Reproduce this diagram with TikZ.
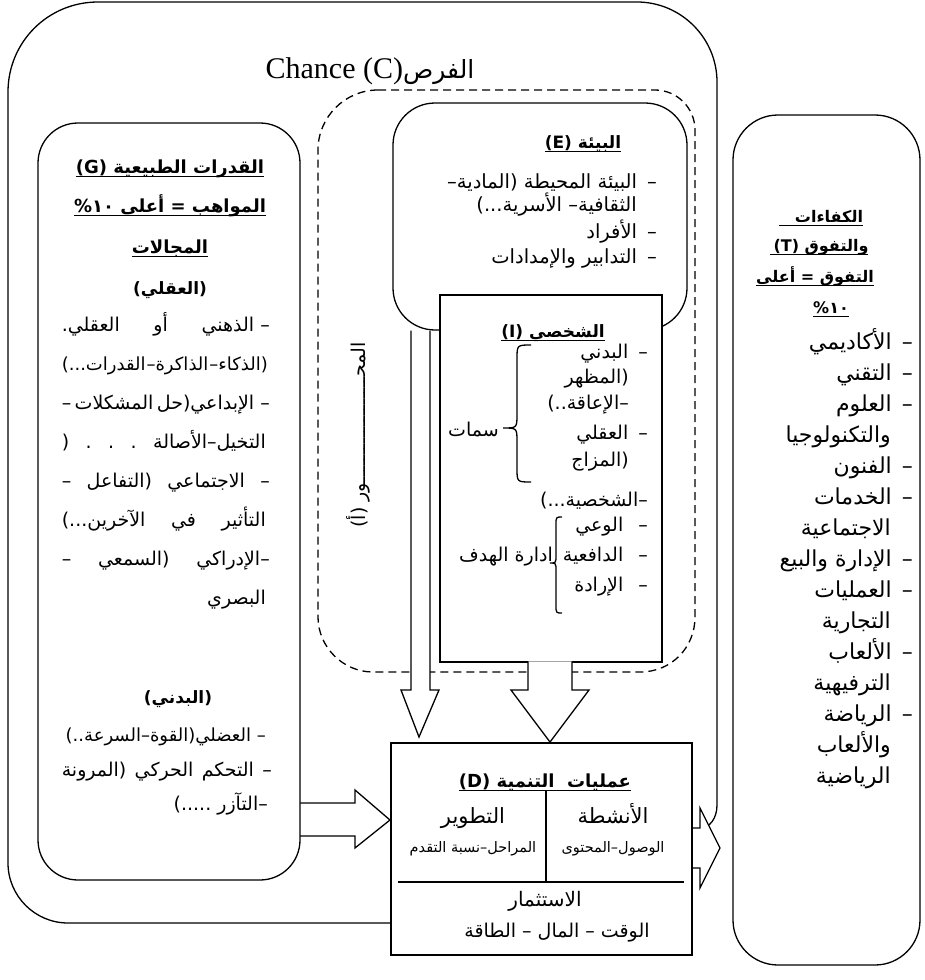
\documentclass[tikz,border=0pt]{standalone}
\usepackage{fontspec}
\setmainfont{Liberation Serif}
\newfontfamily\arabicfont[Script=Arabic]{DejaVu Sans}
\TeXXeTstate=1
\newcommand{\R}[1]{\beginR #1\endR}
\newcommand{\ulr}[1]{\setbox0\hbox{\beginR #1\endR}\rlap{\rule[-4pt]{\wd0}{1.1pt}}\box0}
\newcommand{\pct}{\beginL\hbox{\%}\hbox{١٠}\endL}
\tikzset{
  line/.style={line width=1.3pt},
  box/.style={draw, line width=1.3pt, fill=white, inner sep=0pt},
  tx/.style={inner sep=0pt, font=\arabicfont\fontsize{#1}{#1}\selectfont},
  tb/.style={inner sep=0pt, font=\arabicfont\bfseries\fontsize{#1}{#1}\selectfont},
}
\begin{document}
\begin{tikzpicture}[x=1pt,y=-1pt]
\useasboundingbox (0,0) rectangle (924,980);

% outer frame (Chance)
\draw[line] (392,923) -- (68,923) .. controls (35,923) and (8,896) .. (8,863) -- (8,92)
  .. controls (8,42) and (48,2) .. (98,2) -- (637,2) .. controls (681,2) and (717,38) .. (717,82)
  -- (717,805) .. controls (717,818) and (710,828) .. (700,828);
\node[inner sep=0pt, font=\fontsize{30}{31}\selectfont, anchor=base] (chance) at (370,78)
  {Chance (C){\arabicfont\fontsize{25}{25}\selectfont الفرص}};

% dashed region
\draw[line, dash pattern=on 8pt off 5pt] (378,90) -- (655,90) .. controls (677,90) and (695,108) .. (695,130)
  -- (695,617) .. controls (695,647) and (672,672) .. (640,672) -- (373,672)
  .. controls (343,672) and (318,647) .. (318,617) -- (318,150) .. controls (318,117) and (345,90) .. (378,90) -- cycle;

% arrows drawn below boxes
\draw[box] (290,803) -- (355,803) -- (355,790) -- (390,820) -- (355,848) -- (355,836) -- (290,836);
\draw[box] (680,828) -- (700,828) -- (700,808) -- (720,848) -- (700,888) -- (700,868) -- (680,868);

% boxes
\node[box, rounded corners=40pt, minimum width=262pt, minimum height=757pt] (G) at (169,501.5) {};
\node[box, rounded corners=42pt, minimum width=294pt, minimum height=227pt] (E) at (540,216.5) {};
\draw[box] (411,330.6) -- (411,690) -- (401,690) -- (419,737) -- (439,690) -- (430,690) -- (430,330.6);
\node[box, minimum width=222pt, minimum height=367pt] (I) at (551,478.5) {};
\draw[box] (528,661.4) -- (528,690) -- (511,690) -- (550,742) -- (589,690) -- (572,690) -- (572,661.4);
\node[box, minimum width=301pt, minimum height=212pt] (D) at (541.5,849) {};
\node[box, rounded corners=45pt, minimum width=187pt, minimum height=850pt] (T) at (826.5,540) {};

% axis label
\node[tx=19, rotate=90] (axis) at (358,435) {\R{المحـــــــــــــــــــور (أ)}};

% G box texts
\node[tb=18, anchor=base] (g1) at (170,173) {\ulr{القدرات الطبيعية (G)}};
\node[tb=18, anchor=base] (g2) at (170,212) {\ulr{المواهب = أعلى \pct}};
\node[tb=18, anchor=base] (g3) at (170,253) {\ulr{المجالات}};
\node[tb=17, anchor=base] (g4) at (170,294) {\R{(العقلي)}};
\node[tx=19, anchor=base east] (p1) at (270,331) {\hbox to 208pt{\beginR –~الذهني\hfill أو\hfill العقلي.\endR}};
\node[tx=18, anchor=base east] (p2) at (268,370) {\hbox to 206pt{\beginR (الذكاء–\hfil الذاكرة–\hfil القدرات...)\endR}};
\node[tx=19, anchor=base east] (p3) at (270,409) {\hbox to 208pt{\beginR –~الإبداعي(حل\hfill المشكلات\hfill –\endR}};
\node[tx=19, anchor=base east] (p4) at (266,448) {\hbox to 204pt{\beginR التخيل–الأصالة\hfill .\hfill .\hfill .\hfill (\endR}};
\node[tx=19, anchor=base east] (p5) at (270,487) {\hbox to 208pt{\beginR –\hfill الاجتماعي\hfill (التفاعل\hfill –\endR}};
\node[tx=19, anchor=base east] (p6) at (266,526) {\hbox to 204pt{\beginR التأثير\hfill في\hfill الآخرين...)\endR}};
\node[tx=19, anchor=base east] (p7) at (270,565) {\hbox to 208pt{\beginR –الإدراكي\hfill (السمعي\hfill –\endR}};
\node[tx=19, anchor=base east] (p8) at (266,604) {\R{البصري}};
\node[tb=17, anchor=base] (b0) at (178,703) {\R{(البدني)}};
\node[tx=18, anchor=base east] (b1) at (266,741) {\R{–~العضلي(القوة–السرعة..)}};
\node[tx=19, anchor=base east] (b2) at (272,776) {\hbox to 210pt{\beginR –\hfill التحكم\hfill الحركي\hfill (المرونة\endR}};
\node[tx=19, anchor=base east] (b3) at (268,810) {\R{–التآزر~.....)}};

% E box texts
\node[tb=17, anchor=base] (e0) at (583,148) {\ulr{البيئة (E)}};
\node[tx=19.5, anchor=base east] (e1) at (657,188) {\R{–\hspace{10pt}البيئة المحيطة (المادية–}};
\node[tx=19.5, anchor=base east] (e2) at (637,211) {\R{الثقافية– الأسرية...)}};
\node[tx=19.5, anchor=base east] (e3) at (657,238) {\R{–\hspace{10pt}الأفراد}};
\node[tx=19.5, anchor=base east] (e4) at (657,263) {\R{–\hspace{10pt}التدابير والإمدادات}};

% I box texts
\node[tb=17, anchor=base] (i0) at (553,337) {\ulr{الشخصي (I)}};
\node[tx=19, anchor=base east] (i1) at (648,358) {\R{–\hspace{10pt}البدني}};
\node[tx=19, anchor=base east] (i2) at (629,383) {\R{(المظهر}};
\node[tx=19, anchor=base east] (i3) at (629,409) {\R{–الإعاقة..)}};
\node[tx=19, anchor=base east] (i4) at (648,439) {\R{–\hspace{10pt}العقلي}};
\node[tx=19, anchor=base east] (i5) at (629,466) {\R{(المزاج}};
\node[tx=19, anchor=base east] (i6) at (648,506) {\R{–الشخصية...)}};
\node[tx=19, anchor=base east] (i7) at (648,531) {\R{–\hspace{15pt}الوعي}};
\node[tx=19, anchor=base east] (i8) at (648,561) {\R{–\hspace{15pt}الدافعية}};
\node[tx=19, anchor=base east] (i9) at (648,591) {\R{–\hspace{15pt}الإرادة}};
\node[tx=19, anchor=base east] (sym) at (499,436) {\R{سمات}};
\node[tx=19, anchor=base east] (goal) at (553,561) {\R{ادارة الهدف}};
\draw[line] (531,345) .. controls (517,345) .. (517,359) -- (517,414) .. controls (517,428) .. (503,428)
  .. controls (517,428) .. (517,442) -- (517,468) .. controls (517,482) .. (531,482);
\draw[line] (562,517) .. controls (556,517) .. (556,525) -- (556,555) .. controls (556,563) .. (550,563)
  .. controls (556,563) .. (556,571) -- (556,605) .. controls (556,613) .. (562,613);

% D box texts
\node[tb=18, anchor=base] (d0) at (545,787) {\ulr{عمليات~ التنمية (D)}};
\node[tx=21, anchor=base] (d1) at (473,823) {\R{التطوير}};
\node[tx=14.5, anchor=base] (d2) at (473,852) {\R{المراحل–نسبة التقدم}};
\node[tx=21, anchor=base] (d3) at (613,823) {\R{الأنشطة}};
\node[tx=14.5, anchor=base] (d4) at (613,852) {\R{الوصول–المحتوى}};
\node[tx=20, anchor=base] (d5) at (545,906) {\R{الاستثمار}};
\node[tx=19, anchor=base] (d6) at (557,937) {\R{الوقت – المال – الطاقة}};
\coordinate (dv1) at (546,791);
\coordinate (dv2) at (546,882);
\coordinate (dh1) at (398,882);
\coordinate (dh2) at (684,882);
\draw[line] (dv1) -- (dv2);
\draw[line] (dh1) -- (dh2);

% T box texts
\node[tb=16, anchor=base] (t1) at (821,222) {\ulr{الكفاءات\hspace{16pt}}};
\node[tb=16, anchor=base] (t2) at (819,251) {\ulr{والتفوق (T)\hspace{4pt}}};
\node[tb=16, anchor=base] (t3) at (815,282) {\ulr{التفوق = أعلى}};
\node[tb=16, anchor=base] (t4) at (831,313) {\ulr{\pct}};
\node[tx=22, anchor=base east] (k0) at (913,349) {\R{–\hspace{10pt}الأكاديمي}};
\node[tx=22, anchor=base east] (k1) at (913,380) {\R{–\hspace{10pt}التقني}};
\node[tx=22, anchor=base east] (k2) at (913,411) {\R{–\hspace{10pt}العلوم}};
\node[tx=22, anchor=base east] (k3) at (891,442) {\R{والتكنولوجيا}};
\node[tx=22, anchor=base east] (k4) at (913,473) {\R{–\hspace{10pt}الفنون}};
\node[tx=22, anchor=base east] (k5) at (913,504) {\R{–\hspace{10pt}الخدمات}};
\node[tx=22, anchor=base east] (k6) at (891,535) {\R{الاجتماعية}};
\node[tx=22, anchor=base east] (k7) at (913,566) {\R{–\hspace{10pt}الإدارة والبيع}};
\node[tx=22, anchor=base east] (k8) at (913,597) {\R{–\hspace{10pt}العمليات}};
\node[tx=22, anchor=base east] (k9) at (891,628) {\R{التجارية}};
\node[tx=22, anchor=base east] (k10) at (913,659) {\R{–\hspace{10pt}الألعاب}};
\node[tx=22, anchor=base east] (k11) at (891,690) {\R{الترفيهية}};
\node[tx=22, anchor=base east] (k12) at (913,721) {\R{–\hspace{10pt}الرياضة}};
\node[tx=22, anchor=base east] (k13) at (891,752) {\R{والألعاب}};
\node[tx=22, anchor=base east] (k14) at (891,783) {\R{الرياضية}};
\end{tikzpicture}
\end{document}
